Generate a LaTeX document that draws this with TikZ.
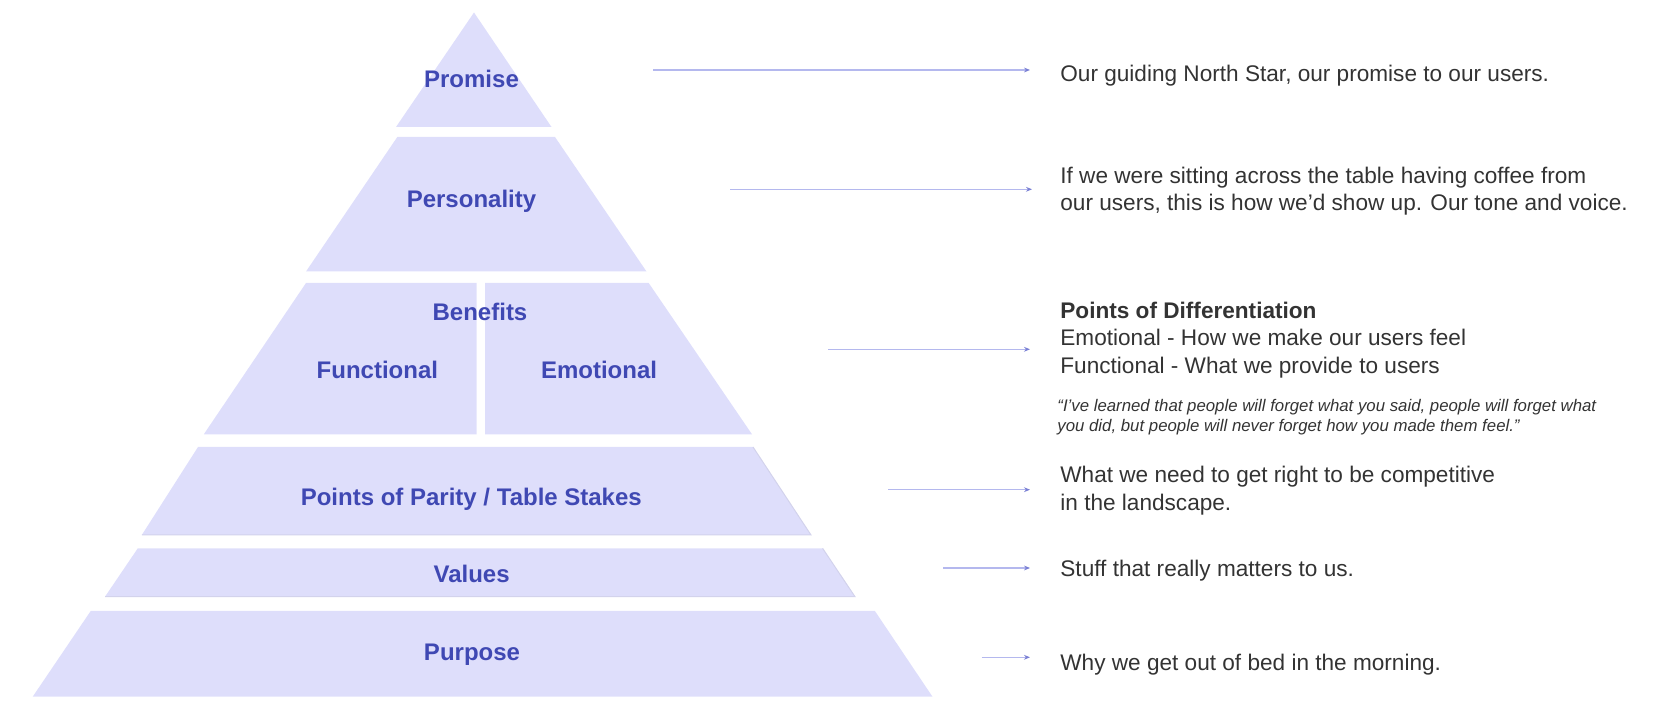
\documentclass[tikz,border=0pt]{standalone}
\usepackage{fontspec}
\setmainfont{Liberation Sans}
\usetikzlibrary{arrows.meta}
\definecolor{pfill}{HTML}{DEDEFB}
\definecolor{pedge}{HTML}{D3D3EC}
\definecolor{plabel}{HTML}{3F48B3}
\definecolor{pline}{HTML}{B4B8EE}
\definecolor{ptip}{HTML}{7A80D4}
\definecolor{ptext}{HTML}{333333}
\begin{document}
\begin{tikzpicture}[x=0.5pt,y=-0.5pt,
  layer/.style={fill=pfill, draw=none},
  lbl/.style={text=plabel, font=\fontsize{12}{14}\selectfont\bfseries, anchor=base, inner sep=0pt},
  desc/.style={text=ptext, font=\fontsize{11.3}{13.75}\selectfont, anchor=base west, align=left, inner sep=0pt},
  quotetext/.style={text=ptext, font=\fontsize{8.4}{10}\selectfont\itshape, anchor=base west, align=left, inner sep=0pt},
  conn/.style={draw=pline, line width=0.6pt, -{Stealth[length=3pt,width=2.4pt,color=ptip]}}]
\useasboundingbox (0,0) rectangle (1656,710);
% pyramid layers
\fill[layer] (474,12.5) -- (551.5,127) -- (396,127) -- cycle;
\fill[layer] (397.3,137) -- (555,137) -- (646.5,271.5) -- (306,271.5) -- cycle;
\fill[layer] (306,283) -- (476.5,283) -- (476.5,434.3) -- (203.8,434.3) -- cycle;
\fill[layer] (485,283) -- (648.7,283) -- (752,434.3) -- (485,434.3) -- cycle;
\fill[layer] (198,447) -- (753,447) -- (811,535) -- (141.8,535) -- cycle;
\draw[pedge, line width=0.5pt] (753,447) -- (811,535) -- (141.8,535);
\fill[layer] (137.8,548.3) -- (822.6,548.3) -- (855,596.7) -- (105,596.7) -- cycle;
\draw[pedge, line width=0.5pt] (822.6,548.3) -- (855,596.7) -- (105,596.7);
\fill[layer] (90.7,611) -- (874.9,611) -- (932.5,696.7) -- (32.7,696.7) -- cycle;
% labels
\node[lbl] (promise) at (471.5,88) {Promise};
\node[lbl] (personality) at (471.5,208) {Personality};
\node[lbl] (benefits) at (480,320.7) {Benefits};
\node[lbl] (functional) at (377.4,378.3) {Functional};
\node[lbl] (emotional) at (599,378.3) {Emotional};
\node[lbl] (parity) at (471.3,506) {Points of Parity / Table Stakes};
\node[lbl] (values) at (471.6,582.7) {Values};
\node[lbl] (purpose) at (472,660.7) {Purpose};
% descriptions (base anchor = baseline of the last line)
\node[desc] (d1) at (1060,81.5) {Our guiding North Star, our promise to our users.};
\node[desc] (d2) at (1060,211) {If we were sitting across the table having coffee from\\our users, this is how we'd show up. Our tone and voice.};
\node[desc] (d3) at (1060,373.5) {\textbf{Points of Differentiation}\\Emotional - How we make our users feel\\Functional - What we provide to users};
\node[quotetext] (q3) at (1057,432) {“I’ve learned that people will forget what you said, people will forget what\\you did, but people will never forget how you made them feel.”};
\node[desc] (d4) at (1060,510.5) {What we need to get right to be competitive\\in the landscape.};
\node[desc] (d5) at (1060,576.5) {Stuff that really matters to us.};
\node[desc] (d6) at (1060,670.5) {Why we get out of bed in the morning.};
% connectors
\coordinate (s1) at (653,70);   \coordinate (e1) at (1030,70);
\coordinate (s2) at (730,189.3); \coordinate (e2) at (1032,189.3);
\coordinate (s3) at (828,349.3); \coordinate (e3) at (1030,349.3);
\coordinate (s4) at (888,489.7); \coordinate (e4) at (1030,489.7);
\coordinate (s5) at (943,568);   \coordinate (e5) at (1030,568);
\coordinate (s6) at (981.7,657.3); \coordinate (e6) at (1030,657.3);
\draw[conn] (s1) -- (e1);
\draw[conn] (s2) -- (e2);
\draw[conn] (s3) -- (e3);
\draw[conn] (s4) -- (e4);
\draw[conn] (s5) -- (e5);
\draw[conn] (s6) -- (e6);
\end{tikzpicture}
\end{document}
